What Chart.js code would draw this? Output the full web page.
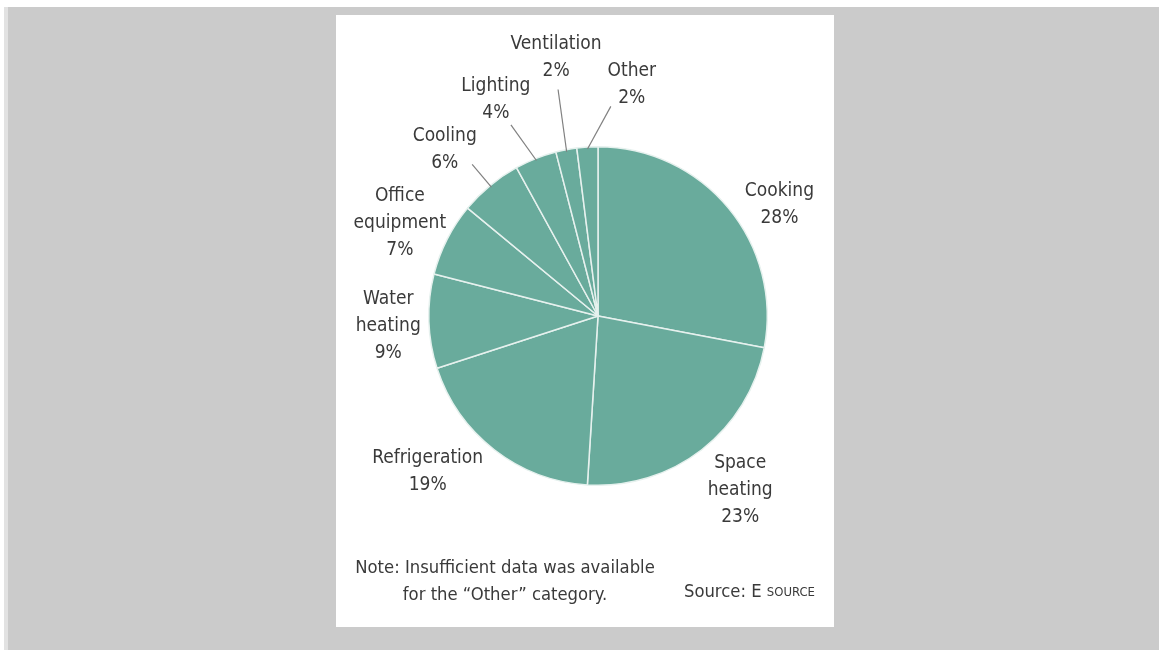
<!DOCTYPE html>
<html>
<head>
<meta charset="utf-8">
<title>Energy end use pie</title>
<script src="https://cdn.jsdelivr.net/npm/chart.js@4.4.1/dist/chart.umd.min.js"></script>
<style>
  html, body { margin: 0; padding: 0; background: #ffffff; width: 1159px; height: 650px; overflow: hidden; }
  #backdrop {
    position: absolute; left: 4px; top: 7px; right: 0; bottom: 0;
    background: #cbcbcb; border-left: 4px solid #e2e2e2;
  }
  #panel {
    position: absolute; left: 336px; top: 15px; width: 498px; height: 612px;
    background: #ffffff;
  }
</style>
</head>
<body>
<div id="backdrop"></div>
<div id="panel"><canvas id="pieChart" width="498" height="612"></canvas></div>
<script>
// Chart data
var categories = ['Cooking', 'Space heating', 'Refrigeration', 'Water heating', 'Office equipment',
                  'Cooling', 'Lighting', 'Ventilation', 'Other'];
var shares = [28, 23, 19, 9, 7, 6, 4, 2, 2];
var labelLines = [['Cooking'], ['Space', 'heating'], ['Refrigeration'], ['Water', 'heating'],
                  ['Office', 'equipment'], ['Cooling'], ['Lighting'], ['Ventilation'], ['Other']];
var noteLines = ['Note: Insufficient data was available', 'for the \u201cOther\u201d category.'];
var sourceText = 'Source: E ';
var sourceSmallCaps = 'SOURCE';

(function() {
  'use strict';

  var FONT = "'DejaVu Sans Condensed', 'Liberation Sans Narrow', sans-serif";
  var TEXT_COLOR = '#3a3a3a';

  // label placement: shift (deg) from slice mid-angle, distance from centre (px)
  var labelPlace = [
    { shift: 8, dist: 213 },
    { shift: -1.4, dist: 225 },
    { shift: 9.7, dist: 231 },
    { shift: -1, dist: 210 },
    { shift: -1.8, dist: 219 },
    { shift: -3.1, dist: 226, leader: { shift: -0.1, dist: 197 } },
    { shift: -3.7, dist: 239, leader: { shift: -2.9, dist: 210 } },
    { shift: 1.6, dist: 262, leader: { shift: 0.8, dist: 230 } },
    { shift: 11.9, dist: 234, leader: { shift: 7.1, dist: 210 } }
  ];

  var outsideLabels = {
    id: 'outsideLabels',
    afterDraw: function(chart) {
      var ctx = chart.ctx;
      var meta = chart.getDatasetMeta(0);
      ctx.save();
      ctx.font = '19px ' + FONT;
      ctx.fillStyle = TEXT_COLOR;
      ctx.textAlign = 'center';
      ctx.textBaseline = 'middle';

      meta.data.forEach(function(arc, i) {
        var p = arc.getProps(['x', 'y', 'startAngle', 'endAngle', 'outerRadius'], true);
        var mid = (p.startAngle + p.endAngle) / 2;
        var place = labelPlace[i];
        var a = mid + place.shift * Math.PI / 180;
        var cx = p.x + place.dist * Math.cos(a);
        var cy = p.y + place.dist * Math.sin(a);
        var lines = labelLines[i].concat([shares[i] + '%']);
        var lh = 27;
        var y0 = cy - (lines.length - 1) * lh / 2;
        lines.forEach(function(t, k) {
          ctx.fillText(t, cx, y0 + k * lh);
        });

        if (place.leader) {
          var la = mid + place.leader.shift * Math.PI / 180;
          ctx.beginPath();
          ctx.strokeStyle = '#808080';
          ctx.lineWidth = 1.2;
          ctx.moveTo(p.x + (p.outerRadius - 2) * Math.cos(mid), p.y + (p.outerRadius - 2) * Math.sin(mid));
          ctx.lineTo(p.x + place.leader.dist * Math.cos(la), p.y + place.leader.dist * Math.sin(la));
          ctx.stroke();
        }
      });

      // note
      ctx.font = '18.3px ' + FONT;
      ctx.textAlign = 'center';
      ctx.fillText(noteLines[0], 169, 553);
      ctx.fillText(noteLines[1], 169, 580);

      // source, with small caps
      ctx.textAlign = 'right';
      ctx.font = '13px ' + FONT;
      var scW = ctx.measureText(sourceSmallCaps).width;
      ctx.fillText(sourceSmallCaps, 479, 578);
      ctx.font = '18.3px ' + FONT;
      ctx.fillText(sourceText, 479 - scW, 577);
      ctx.restore();
    }
  };

  var ctx = document.getElementById('pieChart').getContext('2d');
  new Chart(ctx, {
    type: 'pie',
    data: {
      labels: categories,
      datasets: [{
        data: shares,
        backgroundColor: '#69ab9c',
        borderColor: '#e6f1ee',
        borderWidth: 1.5
      }]
    },
    options: {
      responsive: false,
      animation: false,
      rotation: 0,
      layout: {
        padding: { left: 92, right: 66, top: 131, bottom: 141 }
      },
      plugins: {
        legend: { display: false },
        tooltip: { enabled: false }
      }
    },
    plugins: [outsideLabels]
  });
})();
</script>
</body>
</html>
